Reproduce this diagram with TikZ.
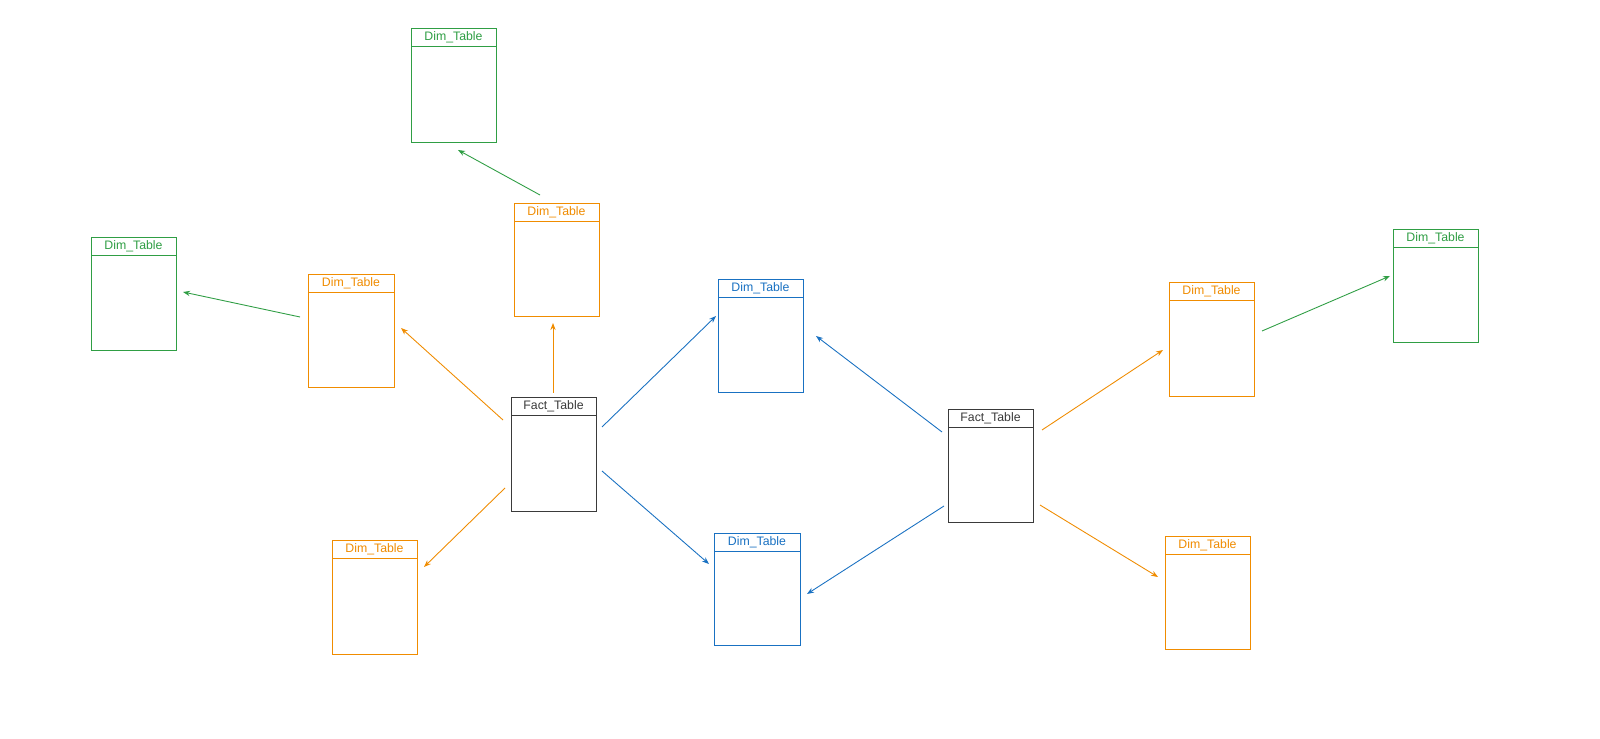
\documentclass[tikz,border=0pt]{standalone}
\usepackage{fontspec}
\setmainfont{Liberation Sans}
\usetikzlibrary{arrows.meta}
\definecolor{cg}{HTML}{2F9E44}
\definecolor{co}{HTML}{F08C00}
\definecolor{cb}{HTML}{1971C2}
\definecolor{ck}{HTML}{3A3A3A}
\newcommand{\tbox}[6]{% name, color, left, top, right, bottom, text
  \node[tbl, draw=#2, minimum width={(#5-#3)*0.02cm}, minimum height={(#6-#4)*0.02cm}] (#1) at ({(#3+#5)/2*0.02},{-(#4+#6)/2*0.02}) {};%
  \draw[#2, line width=0.5pt] ({#3*0.02},{-(#4+18)*0.02}) -- ({#5*0.02},{-(#4+18)*0.02});%
  \node[ttl, text=#2] (#1t) at ({(#3+#5)/2*0.02},{-(#4+9)*0.02}) {Dim\_Table};%
}
\begin{document}
\begin{tikzpicture}[x=0.02cm,y=-0.02cm,
  tbl/.style={rectangle, line width=0.5pt, inner sep=0pt},
  ttl/.style={font=\fontsize{7}{8}\selectfont, inner sep=0pt},
  arr/.style={-{Stealth[length=4pt,width=3pt]}, line width=0.5pt}]
\fill[white] (0,0) rectangle (1600,739);
\begin{scope}[x=1cm,y=1cm]
\tbox{g1}{cg}{411}{28}{496}{142}{}
\tbox{g2}{cg}{91}{237}{176}{350}{}
\tbox{o1}{co}{514}{203}{599}{316}{}
\tbox{o2}{co}{308}{274}{394}{387}{}
\tbox{b1}{cb}{718}{279}{803}{392}{}
\tbox{o3}{co}{332}{540}{417}{654}{}
\tbox{b2}{cb}{714}{533}{800}{645}{}
\tbox{o4}{co}{1169}{282}{1254}{396}{}
\tbox{g3}{cg}{1393}{229}{1478}{342}{}
\tbox{o5}{co}{1165}{536}{1250}{649}{}
\tbox{f1}{ck}{511}{397}{596}{511}{}
\tbox{f2}{ck}{948}{409}{1033}{522}{}
\end{scope}
\node[ttl, fill=white, text=ck] at (f1t) {Fact\_Table};
\node[ttl, fill=white, text=ck] at (f2t) {Fact\_Table};
\foreach \n/\a/\b/\c/\d in {a1/540/195/458/150, a2/300/317/183/292, a3/503/420/401/328, a4/553/393/553/323, a5/505/488/424/567, a6/602/427/716/316, a7/602/471/709/564, a8/942/432/816/336, a9/944/506/807/594, a10/1042/430/1163/350, a11/1040/505/1158/577, a12/1262/331/1390/276}
{\coordinate (\n s) at (\a,\b); \coordinate (\n e) at (\c,\d);}
\draw[arr,cg] (a1s) -- (a1e);
\draw[arr,cg] (a2s) -- (a2e);
\draw[arr,co] (a3s) -- (a3e);
\draw[arr,co] (a4s) -- (a4e);
\draw[arr,co] (a5s) -- (a5e);
\draw[arr,cb] (a6s) -- (a6e);
\draw[arr,cb] (a7s) -- (a7e);
\draw[arr,cb] (a8s) -- (a8e);
\draw[arr,cb] (a9s) -- (a9e);
\draw[arr,co] (a10s) -- (a10e);
\draw[arr,co] (a11s) -- (a11e);
\draw[arr,cg] (a12s) -- (a12e);
\pgfresetboundingbox
\useasboundingbox (0,0) rectangle (1600,739);
\end{tikzpicture}
\end{document}
